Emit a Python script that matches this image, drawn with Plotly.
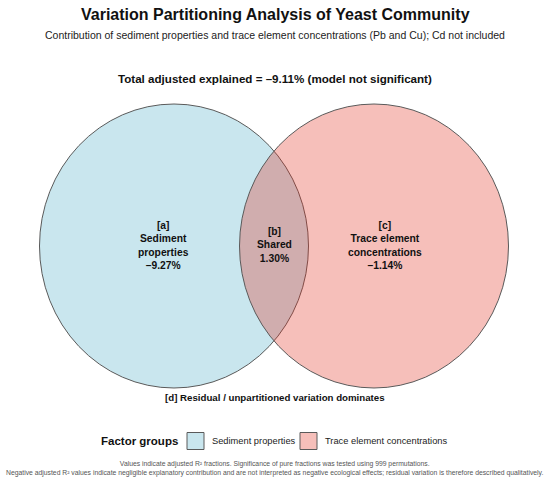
import plotly.graph_objects as go

# variation partitioning results (adjusted R2, %)
groups = ["Sediment properties", "Trace element concentrations"]
group_colors = ["rgba(75,172,198,0.3)", "rgba(225,42,25,0.3)"]
fraction_tags = ["[a]", "[b]", "[c]"]
fraction_names = ["Sediment<br>properties", "Shared", "Trace element<br>concentrations"]
fraction_values = [-9.27, 1.30, -1.14]
total_adjusted = -9.11

W, H = 550, 481
FONT = "Liberation Sans, Arial, sans-serif"

fig = go.Figure()

# two circles (axes are in pixel-like units, y reversed)
centers_x = [174, 374]
cy, rx, ry = 246, 134.5, 142
for cx, col in zip(centers_x, group_colors):
    fig.add_shape(type="circle", xref="x", yref="y",
                  x0=cx - rx, x1=cx + rx, y0=cy - ry, y1=cy + ry,
                  fillcolor=col, line=dict(color="#5a5a5a", width=1), layer="above")

def pct(v):
    return ("\u2013" if v < 0 else "") + f"{abs(v):.2f}%"

label_x = [163, 274, 385]
label_y = [245, 245, 245]
for tag, name, val, lx, ly in zip(fraction_tags, fraction_names, fraction_values, label_x, label_y):
    fig.add_annotation(x=lx, y=ly, xref="x", yref="y", showarrow=False,
                       text=f"<b>{tag}<br>{name}<br>{pct(val)}</b>",
                       font=dict(family=FONT, size=10.3, color="#111111"),
                       align="center")

# legend drawn by hand: title, swatches, labels
fig.add_annotation(x=180, y=441, xref="x", yref="y", xanchor="right", showarrow=False,
                   text="<b>Factor groups</b>",
                   font=dict(family=FONT, size=11.5, color="#111111"))
swatch_x = [187, 300]
for g, col, sx in zip(groups, group_colors, swatch_x):
    fig.add_shape(type="rect", xref="x", yref="y", x0=sx, x1=sx + 17, y0=432.5, y1=449.5,
                  fillcolor=col, line=dict(color="#5a5a5a", width=1))
    fig.add_annotation(x=sx + 23, y=441, xref="x", yref="y", xanchor="left", showarrow=False,
                       text=g, font=dict(family=FONT, size=9.3, color="#222222"))

fig.add_annotation(x=0.5, y=14, xref="paper", yref="y", showarrow=False,
                   text="<b>Variation Partitioning Analysis of Yeast Community</b>",
                   font=dict(family=FONT, size=16, color="#111111"))
fig.add_annotation(x=0.5, y=35, xref="paper", yref="y", showarrow=False,
                   text="Contribution of sediment properties and trace element concentrations (Pb and Cu); Cd not included",
                   font=dict(family=FONT, size=10.5, color="#222222"))
fig.add_annotation(x=0.5, y=78, xref="paper", yref="y", showarrow=False,
                   text=f"<b>Total adjusted explained = {pct(total_adjusted)} (model not significant)</b>",
                   font=dict(family=FONT, size=11.6, color="#111111"))
fig.add_annotation(x=0.5, y=397, xref="paper", yref="y", showarrow=False,
                   text="<b>[d] Residual / unpartitioned variation dominates</b>",
                   font=dict(family=FONT, size=9.7, color="#111111"))
fig.add_annotation(x=0.5, y=468, xref="paper", yref="y", showarrow=False,
                   text="Values indicate adjusted R\u00b2 fractions. Significance of pure fractions was tested using 999 permutations.<br>"
                        "Negative adjusted R\u00b2 values indicate negligible explanatory contribution and are not interpreted as negative ecological effects; residual variation is therefore described qualitatively.",
                   font=dict(family=FONT, size=6.8, color="#555555"), align="center")

fig.update_xaxes(range=[0, W], visible=False, fixedrange=True)
fig.update_yaxes(range=[H, 0], visible=False, fixedrange=True)

fig.update_layout(
    width=W, height=H,
    margin=dict(l=0, r=0, t=0, b=0),
    paper_bgcolor="white", plot_bgcolor="white",
    showlegend=False,
)

# drop the page's default body margin so the figure sits at the window corner
fig.write_html("out.html", config={"displayModeBar": False},
               post_script="document.body.style.margin='0';")
